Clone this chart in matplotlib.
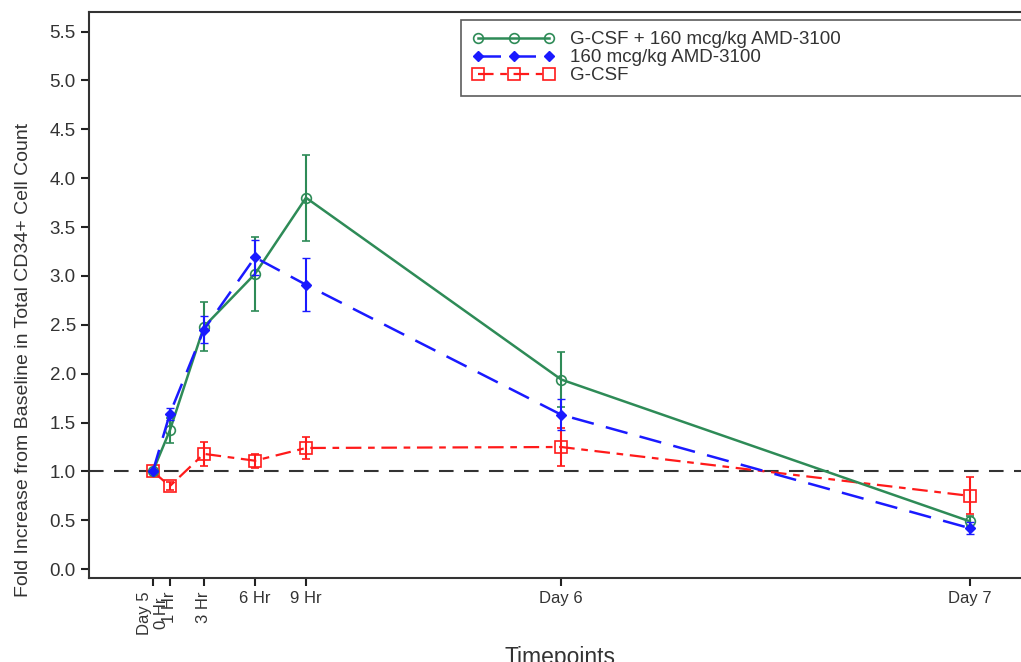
import matplotlib.pyplot as plt
from matplotlib.lines import Line2D
import numpy as np

plt.rcParams['font.family'] = ['Liberation Sans', 'DejaVu Sans']

# timepoints in hours after Day 5 baseline
hours = [0, 1, 3, 6, 9, 24, 48]
tick_labels = ["Day 5\n0 Hr", "1 Hr", "3 Hr", "6 Hr", "9 Hr", "Day 6", "Day 7"]

combo_mean = [1.00, 1.42, 2.48, 3.02, 3.80, 1.94, 0.49]
combo_err = [0.00, 0.13, 0.25, 0.38, 0.44, 0.28, 0.05]

amd_mean = [1.00, 1.59, 2.45, 3.19, 2.91, 1.58, 0.42]
amd_err = [0.00, 0.06, 0.14, 0.18, 0.27, 0.16, 0.06]

gcsf_mean = [1.00, 0.85, 1.18, 1.11, 1.24, 1.25, 0.75]
gcsf_err = [0.00, 0.04, 0.12, 0.07, 0.11, 0.19, 0.19]

green = '#2e8b57'
blue = '#1a1aff'
red = '#ff1a1a'
text_col = '#333333'

combo_style = dict(color=green, linestyle='-', linewidth=1.8, marker='o', markersize=7,
                   mfc='none', mew=1.2)
amd_style = dict(color=blue, linestyle=(0, (9, 5)), linewidth=1.8, marker='D', markersize=5,
                 mfc=blue, mew=1.0)
gcsf_style = dict(color=red, linestyle=(0, (7, 3, 3, 3)), linewidth=1.6, marker='s', markersize=8,
                  mfc='none', mew=1.2)

fig = plt.figure(figsize=(10.21, 6.62), dpi=100)
ax = fig.add_axes([89/1021, 84/662, 942/1021, 566/662])

ax.axhline(1.0, color='#333333', linestyle=(0, (7, 5)), linewidth=1.5, zorder=1)

ax.errorbar(hours, combo_mean, yerr=combo_err, capsize=3, elinewidth=1.5, zorder=3, **combo_style)
ax.errorbar(hours, amd_mean, yerr=amd_err, capsize=3, elinewidth=1.5, zorder=4, **amd_style)
ax.errorbar(hours, gcsf_mean, yerr=gcsf_err, capsize=3, elinewidth=1.5, zorder=2, **gcsf_style)

ax.set_xlim(-3.75, 51.6)
ax.set_ylim(-0.09, 5.70)
ax.set_yticks(np.arange(0, 5.51, 0.5))
ax.set_yticklabels([f"{v:.1f}" for v in np.arange(0, 5.51, 0.5)])
ax.set_xticks(hours)
ax.set_xticklabels(tick_labels)
for i, lab in enumerate(ax.get_xticklabels()):
    if i < 3:
        lab.set_rotation(90)
        lab.set_va('top')
        lab.set_ha('center')

ax.tick_params(axis='both', direction='out', length=6, width=1.5, colors='#222222',
               labelsize=12, labelcolor=text_col)
ax.tick_params(axis='y', labelsize=13.5)

for side in ['left', 'bottom', 'top', 'right']:
    ax.spines[side].set_linewidth(1.5)
    ax.spines[side].set_color('#333333')

ax.set_ylabel("Fold Increase from Baseline in Total CD34+ Cell Count", fontsize=14, color=text_col)
ax.yaxis.set_label_coords(-0.06, 0.385)
ax.set_xlabel("Timepoints", fontsize=16.5, color=text_col)
ax.xaxis.set_label_coords(0.5, -0.12)

handles = [Line2D([], [], **combo_style), Line2D([], [], **amd_style), Line2D([], [], **gcsf_style)]
labels = ["G-CSF + 160 mcg/kg AMD-3100", "160 mcg/kg AMD-3100", "G-CSF"]
leg = ax.legend(handles, labels, loc='upper left', bbox_to_anchor=(0.395, 0.85, 0.6, 0.136),
                mode='expand', fontsize=13.5, numpoints=3, handlelength=4.4, frameon=True,
                fancybox=False, borderaxespad=0, labelspacing=0.05, borderpad=0.6,
                handletextpad=0.8)
leg.get_frame().set_edgecolor('#333333')
leg.get_frame().set_linewidth(1.2)
for t in leg.get_texts():
    t.set_color(text_col)

fig.savefig("out.png", dpi=100)
